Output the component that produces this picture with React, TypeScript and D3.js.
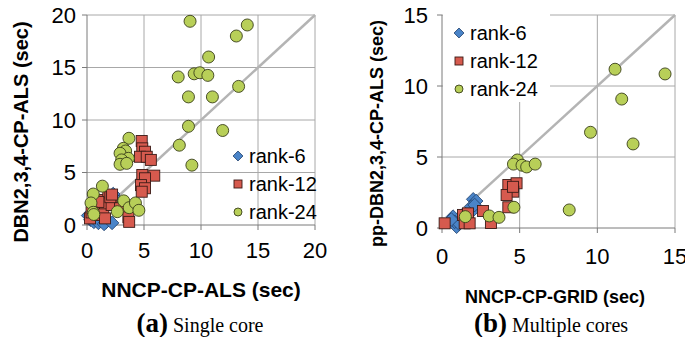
import React from "react";
import * as d3 from "d3";

type Pt = [number, number];

// (a) single core: x = NNCP-CP-ALS, y = DBN2,3,4-CP-ALS (sec)
const rank6A: Pt[] = [
  [0.1, 0.9], [0.3, 0.5], [0.6, 0.3], [1.0, 0.2], [1.7, 0.3], [1.5, 0.1], [2.2, 0.2],
  [2.25, 2.8], [2.4, 2.6], [2.3, 2.95], [2.0, 2.5], [1.2, 1.5], [0.8, 1.2], [1.9, 2.0],
];
const rank12A: Pt[] = [
  [0.26, 0.63], [0.7, 1.59], [1.14, 0.95], [1.43, 1.43], [1.58, 0.63], [1.2, 2.38], [1.87, 2.79],
  [1.58, 2.06], [2.16, 1.9], [2.9, 1.6], [3.63, 0.73], [3.7, 0.3], [1.0, 2.2], [0.4, 1.2],
  [2.05, 2.65], [2.2, 2.9],
  [4.8, 8.0], [4.85, 7.3], [5.09, 6.98], [4.65, 6.5], [5.24, 6.5], [5.6, 6.2], [4.85, 4.76],
  [5.9, 4.7], [5.09, 4.45], [4.74, 3.8], [5.09, 3.5], [4.8, 3.17],
];
const rank24A: Pt[] = [
  [9.04, 19.4], [14.06, 19.05], [13.1, 18.0], [10.67, 16.0], [8.0, 14.1], [9.4, 14.4], [9.9, 14.5],
  [10.6, 14.25], [8.9, 12.2], [11.0, 12.2], [13.3, 13.2], [8.9, 9.4], [11.9, 9.0], [8.1, 7.6], [9.2, 5.7],
  [3.68, 8.26], [3.19, 7.3], [3.39, 7.05], [2.9, 6.83], [3.63, 6.35], [3.04, 6.2], [2.9, 5.78], [3.48, 5.87],
  [1.35, 3.7], [0.55, 2.95], [0.35, 2.1], [0.55, 1.21], [0.6, 1.0], [2.66, 1.27], [3.22, 2.3],
  [3.7, 1.65], [4.25, 2.1], [4.55, 1.4],
];

// (b) multiple cores: x = NNCP-CP-GRID, y = pp-DBN2,3,4-CP-ALS (sec)
const rank6B: Pt[] = [
  [2.01, 2.02], [2.2, 1.9], [2.06, 1.32], [1.89, 1.5], [2.1, 1.62], [0.84, 0.56], [0.94, 0.09],
  [0.71, 0.8], [0.82, 0.44], [1.1, 0.3], [0.6, 0.6],
];
const rank12B: Pt[] = [
  [0.17, 0.33], [1.35, 0.92], [1.67, 1.03], [1.46, 0.33], [1.78, 0.33], [2.64, 1.2], [3.15, 0.35],
  [4.27, 1.46], [4.27, 3.03], [4.8, 3.15], [4.59, 2.56], [4.16, 2.32], [4.57, 2.9],
];
const rank24B: Pt[] = [
  [11.14, 11.18], [14.36, 10.85], [11.57, 9.08], [9.56, 6.74], [12.3, 5.92], [4.85, 4.79], [4.6, 4.5],
  [5.15, 4.42], [5.45, 4.3], [6.0, 4.5], [8.19, 1.27], [4.63, 1.46], [3.04, 0.85], [3.67, 0.75], [1.5, 0.8],
];

const ticksA = [0, 5, 10, 15, 20];
const ticksB = [0, 5, 10, 15];
const seriesNames = ["rank-6", "rank-12", "rank-24"];

const BLUE = "#4a84c8";
const RED = "#d65a4e";
const GREEN = "#b8cf58";
const GRID = "#a8a8a8";
const AXIS = "#7a7a7a";
const SANS = "Liberation Sans, Arial, sans-serif";
const SERIF = "Liberation Serif, Times New Roman, serif";

function Marker({ kind, x, y, s }: { kind: number; x: number; y: number; s: number }) {
  if (kind === 0) {
    const h = s * 0.62;
    return (
      <path
        d={`M${x},${y - h}L${x + h},${y}L${x},${y + h}L${x - h},${y}Z`}
        fill={BLUE}
        stroke="#1f3f6a"
        strokeWidth={0.8}
      />
    );
  }
  if (kind === 1) {
    return (
      <rect x={x - s / 2} y={y - s / 2} width={s} height={s} fill={RED} stroke="#3a1a16" strokeWidth={0.9} />
    );
  }
  return <circle cx={x} cy={y} r={s / 2} fill={GREEN} stroke="#3a3f1a" strokeWidth={0.9} />;
}

type PanelProps = {
  series: Pt[][];
  ticks: number[];
  x0: number;
  x1: number;
  y0: number;
  y1: number;
  ylabX: number;
  xlabY: number;
  yTitle: string;
  yTitleX: number;
  yTitleSize: number;
  legendX: number;
  legendY: number;
  legendBg: boolean;
};

function Panel(p: PanelProps) {
  const max = p.ticks[p.ticks.length - 1];
  const x = d3.scaleLinear().domain([0, max]).range([p.x0, p.x1]);
  const y = d3.scaleLinear().domain([0, max]).range([p.y0, p.y1]);
  const sizes = [11, 11, 12];
  return (
    <g>
      {p.ticks.map((t) => (
        <g key={"g" + t}>
          {t > 0 && <line x1={x(t)} x2={x(t)} y1={p.y0} y2={p.y1} stroke={GRID} strokeWidth={1} />}
          {t > 0 && <line x1={p.x0} x2={p.x1} y1={y(t)} y2={y(t)} stroke={GRID} strokeWidth={1} />}
        </g>
      ))}
      {p.legendBg && (
        <rect x={p.x0 + 1} y={p.y1 - 1} width={107} height={88} fill="#fff" />
      )}
      <line x1={x(0)} y1={y(0)} x2={x(max)} y2={y(max)} stroke="#b4b4b4" strokeWidth={2.5} />
      <line x1={p.x0} x2={p.x0} y1={p.y0} y2={p.y1} stroke={AXIS} strokeWidth={1} />
      <line x1={p.x0} x2={p.x1} y1={p.y0} y2={p.y0} stroke={AXIS} strokeWidth={1} />
      {p.ticks.map((t) => (
        <g key={"t" + t}>
          <line x1={p.x0 - 5} x2={p.x0} y1={y(t)} y2={y(t)} stroke={AXIS} />
          <line x1={x(t)} x2={x(t)} y1={p.y0} y2={p.y0 + 5} stroke={AXIS} />
          <text x={p.ylabX} y={y(t)} dy="0.36em" textAnchor="end" fontFamily={SANS} fontSize={22} fill="#000">
            {t}
          </text>
          <text x={x(t)} y={p.xlabY} textAnchor="middle" fontFamily={SANS} fontSize={22} fill="#000">
            {t}
          </text>
        </g>
      ))}
      {p.series.map((pts, k) =>
        pts.map((d, i) => <Marker key={k + "-" + i} kind={k} x={x(d[0])} y={y(d[1])} s={sizes[k]} />)
      )}
      {seriesNames.map((name, k) => (
        <g key={name}>
          <Marker kind={k} x={p.legendX} y={p.legendY + k * 28} s={8} />
          <text x={p.legendX + 11} y={p.legendY + k * 28} dy="0.36em" fontFamily={SANS} fontSize={20} fill="#000">
            {name}
          </text>
        </g>
      ))}
      <text
        transform={`translate(${p.yTitleX},${(p.y0 + p.y1) / 2 + 12}) rotate(-90)`}
        textAnchor="middle"
        dy="0.36em"
        fontFamily={SANS}
        fontWeight="bold"
        fontSize={p.yTitleSize}
      >
        {p.yTitle}
      </text>
    </g>
  );
}

export default function App() {
  return (
    <svg
      width={685}
      height={337}
      style={{ position: "absolute", left: 0, top: 0, background: "#fff" }}
    >
      <Panel
        series={[rank6A, rank12A, rank24A]}
        ticks={ticksA}
        x0={87}
        x1={315}
        y0={225}
        y1={15}
        ylabX={76}
        xlabY={258}
        yTitle="DBN2,3,4-CP-ALS (sec)"
        yTitleX={21}
        yTitleSize={20}
        legendX={238}
        legendY={156}
        legendBg={false}
      />
      <Panel
        series={[rank6B, rank12B, rank24B]}
        ticks={ticksB}
        x0={442}
        x1={675}
        y0={228}
        y1={15}
        ylabX={428}
        xlabY={264}
        yTitle="pp-DBN2,3,4-CP-ALS (sec)"
        yTitleX={377}
        yTitleSize={18}
        legendX={459}
        legendY={33}
        legendBg={true}
      />
      <text x={201} y={297} textAnchor="middle" fontFamily={SANS} fontWeight="bold" fontSize={21}>
        NNCP-CP-ALS (sec)
      </text>
      <text x={555} y={303} textAnchor="middle" fontFamily={SANS} fontWeight="bold" fontSize={18}>
        NNCP-CP-GRID (sec)
      </text>
      <text x={200} y={332} textAnchor="middle" fontFamily={SERIF} fontSize={20}>
        <tspan fontWeight="bold" fontSize={27}>(a)</tspan> Single core
      </text>
      <text x={551} y={332} textAnchor="middle" fontFamily={SERIF} fontSize={20}>
        <tspan fontWeight="bold" fontSize={27}>(b)</tspan> Multiple cores
      </text>
    </svg>
  );
}
